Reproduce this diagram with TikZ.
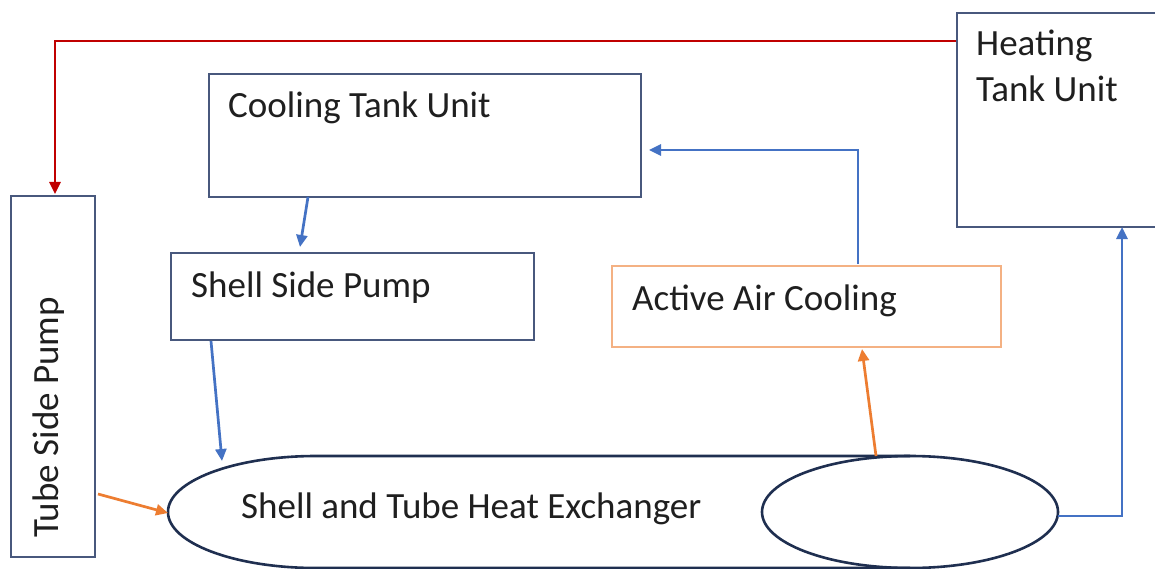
\documentclass[tikz,border=0pt]{standalone}
\usepackage{fontspec}
\setmainfont{Carlito}
\usetikzlibrary{arrows.meta}
\definecolor{boxline}{RGB}{72,88,125}
\definecolor{hxline}{RGB}{31,47,80}
\definecolor{flowblue}{RGB}{68,114,196}
\definecolor{floworange}{RGB}{237,125,49}
\definecolor{lightorange}{RGB}{244,177,131}
\definecolor{flowred}{RGB}{192,0,0}
\begin{document}
\begin{tikzpicture}[x=1pt,y=-1pt,
  unitbox/.style={draw=boxline,line width=1.8pt,rectangle,inner sep=0pt,anchor=north west},
  lbl/.style={anchor=base west,inner sep=0pt,font=\fontsize{37}{44}\selectfont,text=black!88},
  flow/.style={line width=2.7pt,-{Triangle[length=12pt,width=11pt]}},
  blueflow/.style={flow,draw=flowblue},
  orangeflow/.style={flow,draw=floworange},
  redflow/.style={flow,draw=flowred}]
\clip (0,0) rectangle (1155,569);
\fill[white] (0,0) rectangle (1155,569);

% boxes
\node[unitbox,minimum width=432pt,minimum height=123pt] (cool) at (208,73) {};
\node[unitbox,minimum width=363pt,minimum height=87pt] (shell) at (170,252) {};
\node[unitbox,draw=lightorange,minimum width=389pt,minimum height=81pt] (air) at (611,265) {};
\node[unitbox,minimum width=230pt,minimum height=214pt] (heat) at (956,12) {};
\node[unitbox,minimum width=84pt,minimum height=361pt] (tube) at (10,195) {};

% labels
\node[lbl] (coolT) at (228,118) {Cooling Tank Unit};
\node[lbl] (shellT) at (191,297) {Shell Side Pump};
\node[lbl] (airT) at (632,310) {Active Air Cooling};
\node[lbl] (heatT1) at (976,56) {Heating};
\node[lbl] (heatT2) at (976,102) {Tank Unit};
\node[lbl,rotate=90] (tubeT) at (58,538) {Tube Side Pump};

% heat exchanger (horizontal cylinder)
\draw[hxline,line width=2.6pt] (316,456) -- (910,456)
  (316,456) arc[start angle=90,end angle=270,x radius=148,y radius=-56] -- (910,568);
\draw[hxline,line width=2.6pt] (910,512) ellipse[x radius=148,y radius=56];
\node[lbl] (hxT) at (241,518) {Shell and Tube Heat Exchanger};
\coordinate (hxL) at (168,513);
\coordinate (hxTop) at (876,456);
\coordinate (hxR) at (1058,516);

% connectors
\draw[redflow] (heat.west |- 0,41) -- (55,41) -- (55,194);
\draw[blueflow] (308,197) -- (300,247);
\draw[blueflow] (211,341) -- (222,461);
\draw[orangeflow] (98,494) -- (hxL);
\draw[orangeflow] (hxTop) -- (862,349);
\draw[blueflow] (858,264) -- (858,150) -- (649,150);
\draw[blueflow] (hxR) -- (1122,516) -- (1122,227);
\end{tikzpicture}
\end{document}
